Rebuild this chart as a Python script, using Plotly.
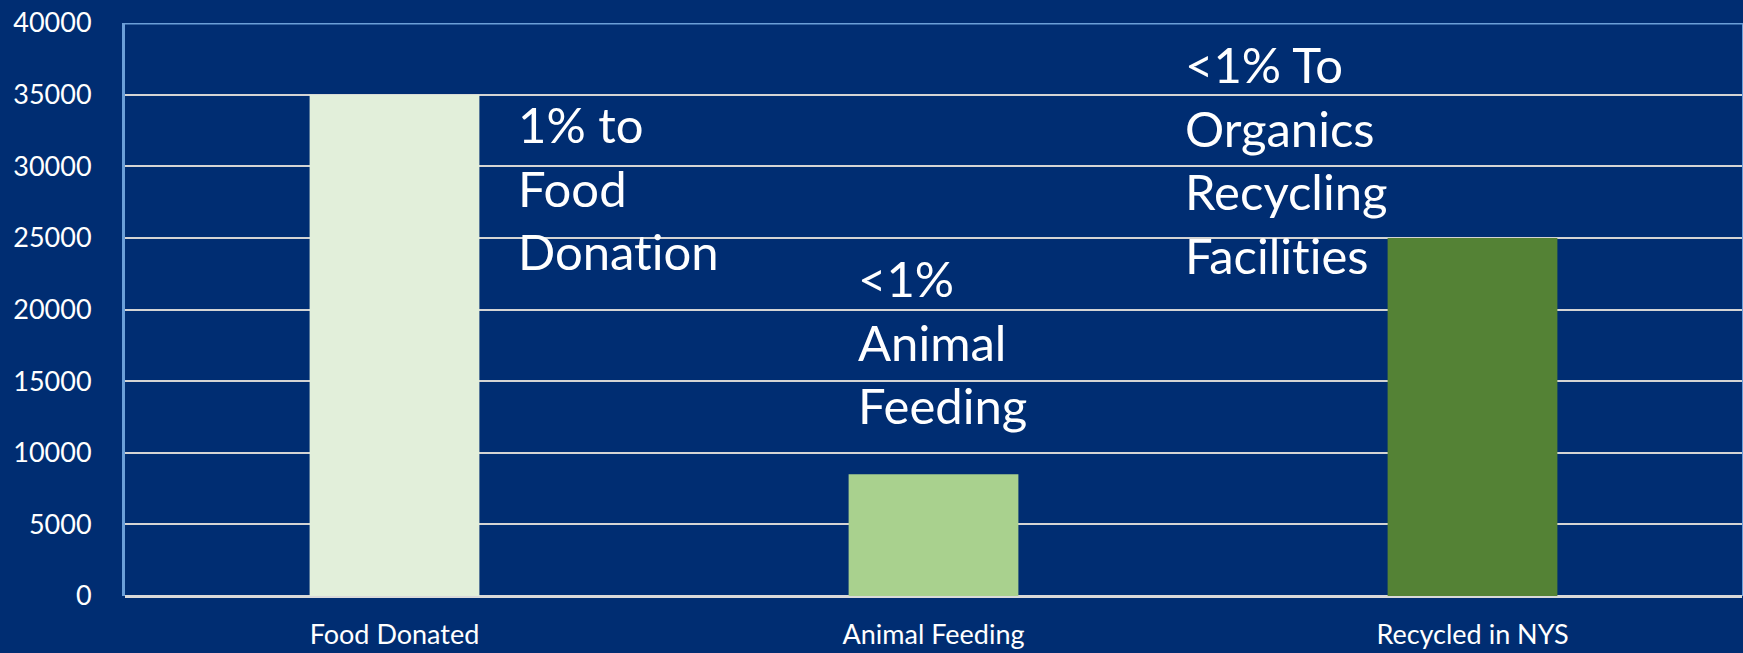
import plotly.graph_objects as go

categorias = ['Food Donated', 'Animal Feeding', 'Recycled in NYS']
valores = [35000, 8500, 25000]
cores = ['#e2efda', '#a9d18e', '#548235']

# \u200c evita a ligadura "ti" da fonte Lato
rotulos = ['1% to<br>Food<br>Donat\u200cion',
           '<1%<br>Animal<br>Feeding',
           '<1% To<br>Organics<br>Recycling<br>Facilit\u200ci\u200ces']
rotulos_x = [0.226, 0.856, 1.462]
rotulos_y = [28500, 17750, 30450]

fundo = '#002d72'
fonte = 'Lato, Calibri, sans-serif'

fig = go.Figure(go.Bar(x=categorias, y=valores, marker=dict(color=cores, line=dict(width=0)),
                       hoverinfo='x+y'))

for txt, x, y in zip(rotulos, rotulos_x, rotulos_y):
    fig.add_annotation(x=x, y=y, xref='x', yref='y', text=txt, showarrow=False,
                       xanchor='left', yanchor='middle', align='left',
                       font=dict(size=49, color='white', family=fonte))

# borda de cima do plot (azul claro)
fig.add_shape(type='line', xref='paper', yref='y', x0=0, x1=1, y0=40000, y1=40000,
              line=dict(color='#6b9fd8', width=3))

fig.update_layout(
    width=1743, height=653,
    margin=dict(l=125, r=1, t=23, b=57),
    paper_bgcolor=fundo, plot_bgcolor=fundo,
    bargap=0.685,
    showlegend=False,
    font=dict(family=fonte, color='white', size=27),
)
fig.update_yaxes(range=[0, 40000], dtick=5000, tickformat='d', automargin=False,
                 showgrid=True, gridcolor='#d4d4d4', gridwidth=2,
                 zeroline=True, zerolinecolor='#d9d9d9', zerolinewidth=3,
                 showline=True, linecolor='#6b9fd8', linewidth=3, mirror=True,
                 ticks='', ticklabelstandoff=25, tickfont=dict(size=27, color='white'))
fig.update_xaxes(showgrid=False, showline=False, ticks='', ticklabelstandoff=20, automargin=False,
                 tickfont=dict(size=27, color='white'))

# tira a margem padrão do body para o gráfico ficar colado no canto
fig.write_html("out.html", config={'displayModeBar': False},
               post_script="document.body.style.margin='0';document.body.style.background='#002d72';")
